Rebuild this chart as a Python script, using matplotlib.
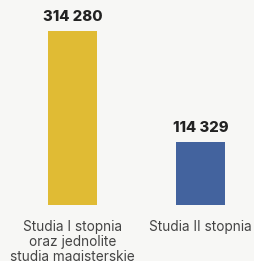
import matplotlib
matplotlib.use("Agg")
import matplotlib.pyplot as plt
import matplotlib.transforms as mtransforms

categories = ["Studia I stopnia\noraz jednolite\nstudia magisterskie", "Studia II stopnia"]
values = [314280, 114329]
value_labels = ["314 280", "114 329"]
colors = ["#E0BB34", "#43639E"]

W, H = 254, 261
fig = plt.figure(figsize=(W / 100, H / 100), dpi=100)
bg = "#F7F7F5"
fig.patch.set_facecolor(bg)

ax_bottom_px = 205
ax = fig.add_axes([0, (H - ax_bottom_px) / H, 1, ax_bottom_px / H])
ax.set_facecolor(bg)
x = [0, 1]
ax.bar(x, values, width=49 / 128, color=colors)
ax.set_xlim(-72.5 / 128, 1 + (W - 200.5) / 128)
ax.set_ylim(0, 314280 * 205 / 174)
ax.axis("off")

for xi, v, lab in zip(x, values, value_labels):
    ax.annotate(lab, (xi, v), xytext=(0, 4.8), textcoords="offset points",
                ha="center", va="bottom", fontsize=10.7, fontweight="heavy",
                family="Inter", color="#222222")

trans = mtransforms.blended_transform_factory(ax.transData, ax.transAxes)
for xi, c in zip(x, categories):
    ax.annotate(c, (xi, 0), xycoords=trans, xytext=(0, -11), textcoords="offset points",
                ha="center", va="top", fontsize=9.8, family="Inter",
                color="#444444", linespacing=1.08, annotation_clip=False)

fig.savefig("out.png", dpi=100, facecolor=bg)
